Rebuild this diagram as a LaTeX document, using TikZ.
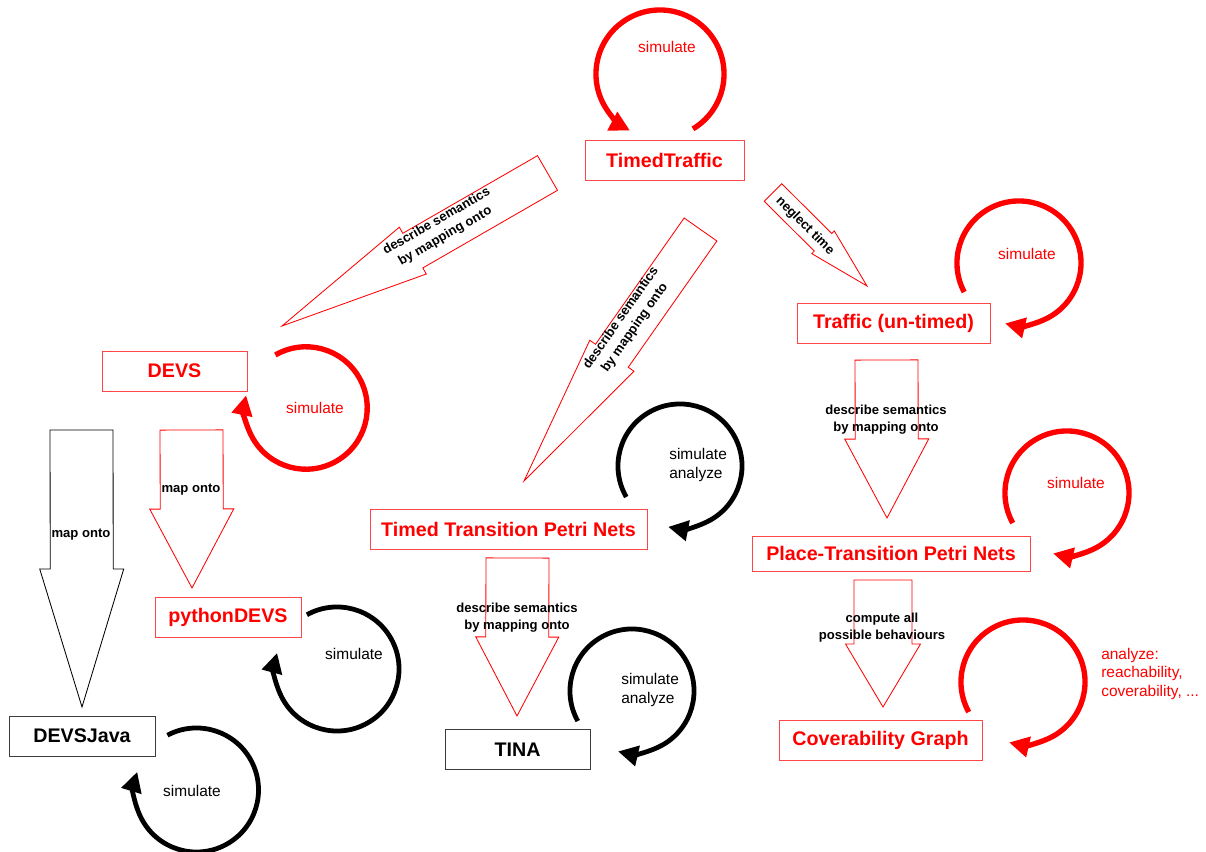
\documentclass[tikz,border=0pt]{standalone}
\usepackage{fontspec}
\setmainfont{Liberation Sans}
\usetikzlibrary{arrows.meta, calc}
\definecolor{simred}{RGB}{255, 0, 0}
\definecolor{boxred}{RGB}{255, 70, 70}
\definecolor{boxgray}{RGB}{60, 60, 60}

% hollow block arrow: [style]{tail}{tip}{shaft half width}{head half width}{head length}, sizes in px
\newcommand{\blockarrow}[6][]{%
  \path ($(#3)!#6*0.025cm!(#2)$) coordinate (ba-base);
  \draw[#1] ($(#2)!#4*0.025cm!90:(#3)$) -- ($(ba-base)!#4*0.025cm!90:(#3)$)
    -- ($(ba-base)!#5*0.025cm!90:(#3)$) -- (#3)
    -- ($(ba-base)!#5*0.025cm!-90:(#3)$) -- ($(ba-base)!#4*0.025cm!-90:(#3)$)
    -- ($(#2)!#4*0.025cm!-90:(#3)$) -- cycle;
}

\begin{document}
\begin{tikzpicture}[x=0.025cm, y=-0.025cm,
  redbox/.style={draw=boxred, line width=0.6pt, text=simred, font=\fontsize{14}{16}\selectfont\bfseries, minimum height=1cm, inner sep=0pt},
  blackbox/.style={redbox, draw=boxgray, text=black},
  redloop/.style={simred, line width=3.8pt, -{Triangle[length=0.5cm, width=0.5cm]}},
  blackloop/.style={redloop, black, line width=3.4pt},
  looplabel/.style={font=\fontsize{11}{13.5}\selectfont, inner sep=0pt},
  arrowlabel/.style={font=\fontsize{9.3}{12}\selectfont\bfseries, align=center, inner sep=0pt},
  redarrow/.style={draw=simred, line width=0.6pt},
  blackarrow/.style={draw=black, line width=0.6pt}]
  \useasboundingbox (0,0) rectangle (1206,852);

  % Modelling formalisms
  \node[redbox, minimum width=3.975cm] (tt) at (664.5,160) {TimedTraffic};
  \node[redbox, minimum width=4.825cm] (traffic) at (893.5,323) {Traffic (un-timed)};
  \node[redbox, minimum width=3.625cm] (devs) at (174.5,371) {DEVS};
  \node[redbox, minimum width=3.65cm] (pydevs) at (228,617.5) {pythonDEVS};
  \node[blackbox, minimum width=3.65cm] (devsjava) at (82,736) {DEVSJava};
  \node[redbox, minimum width=6.925cm] (ttpn) at (508.5,529) {Timed Transition Petri Nets};
  \node[blackbox, minimum width=3.625cm] (tina) at (517.5,749.5) {TINA};
  \node[redbox, minimum width=6.95cm, minimum height=0.875cm] (ptnet) at (891,553.5) {Place-Transition Petri Nets};
  \node[redbox, minimum width=5.075cm] (cover) at (880.5,740.5) {Coverability Graph};

  % Arrow ends
  \coordinate (tt2devs-s) at (547.5,173);  \coordinate (tt2devs-e) at (282,326);
  \coordinate (tt2ttpn-s) at (700.5,229.5); \coordinate (tt2ttpn-e) at (524,481);
  \coordinate (tt2tr-s) at (773,192.5);    \coordinate (tt2tr-e) at (867,286);
  \coordinate (dv2java-s) at (81.5,430);   \coordinate (dv2java-e) at (82,707);
  \coordinate (dv2py-s) at (191.5,430);    \coordinate (dv2py-e) at (192,588);
  \coordinate (ttpn2tina-s) at (517.5,558); \coordinate (ttpn2tina-e) at (517,716);
  \coordinate (tr2pt-s) at (886.5,360);    \coordinate (tr2pt-e) at (887,518);
  \coordinate (pt2cov-s) at (883,580);     \coordinate (pt2cov-e) at (883,707);

  % Mappings
  \blockarrow[redarrow]{tt2devs-s}{tt2devs-e}{20}{27}{151}
  \blockarrow[redarrow]{tt2ttpn-s}{tt2ttpn-e}{20}{27}{153}
  \blockarrow[redarrow]{tt2tr-s}{tt2tr-e}{12.4}{16}{62}
  \blockarrow[blackarrow]{dv2java-s}{dv2java-e}{31.5}{42}{138}
  \blockarrow[redarrow]{dv2py-s}{dv2py-e}{31.5}{42}{79}
  \blockarrow[redarrow]{ttpn2tina-s}{ttpn2tina-e}{31.5}{41.5}{79}
  \blockarrow[redarrow]{tr2pt-s}{tr2pt-e}{31.5}{42}{79}
  \blockarrow[redarrow]{pt2cov-s}{pt2cov-e}{29}{37.5}{63}

  \node[arrowlabel, rotate=30] (tt2devs-l) at (441,229) {describe semantics\\by mapping onto};
  \node[arrowlabel, rotate=55] (tt2ttpn-l) at (628,323) {describe semantics\\by mapping onto};
  \node[arrowlabel, rotate=-45] (tt2tr-l) at (805,226) {neglect time};
  \node[arrowlabel] (dv2java-l) at (81,535) {map onto};
  \node[arrowlabel] (dv2py-l) at (191,490) {map onto};
  \node[arrowlabel] (ttpn2tina-l) at (517,618) {describe semantics\\by mapping onto};
  \node[arrowlabel] (tr2pt-l) at (886,420) {describe semantics\\by mapping onto};
  \node[arrowlabel] (pt2cov-l) at (882,628) {compute all\\possible behaviours};

  % Loops on the formalisms
  \coordinate (tt-c) at (660,74);
  \draw[redloop] ($(tt-c)+(-59:1.6cm)$) arc[start angle=-59, end angle=242, radius=1.6cm];
  \node[looplabel, text=simred] (tt-sim) at (667,47) {simulate};

  \coordinate (traffic-c) at (1019,263);
  \draw[redloop] ($(traffic-c)+(208:1.55cm)$) arc[start angle=208, end angle=-103, radius=1.55cm];
  \node[looplabel, text=simred] (traffic-sim) at (1027,254) {simulate};

  \coordinate (devs-c) at (306,408);
  \draw[redloop] ($(devs-c)+(120:1.53cm)$) arc[start angle=120, end angle=-192, radius=1.53cm];
  \node[looplabel, text=simred] (devs-sim) at (315,408) {simulate};

  \coordinate (pydevs-c) at (337,669);
  \draw[blackloop] ($(pydevs-c)+(119:1.55cm)$) arc[start angle=119, end angle=-195, radius=1.55cm];
  \node[looplabel] (pydevs-sim) at (354,654) {simulate};

  \coordinate (devsjava-c) at (196.5,790);
  \draw[blackloop] ($(devsjava-c)+(118:1.55cm)$) arc[start angle=118, end angle=-197, radius=1.55cm];
  \node[looplabel] (devsjava-sim) at (192,791) {simulate};

  \coordinate (ttpn-c) at (680,466);
  \draw[blackloop] ($(ttpn-c)+(210:1.55cm)$) arc[start angle=210, end angle=-101, radius=1.55cm];
  \node[looplabel, align=left, anchor=west] (ttpn-sim) at (669,465) {simulate\\analyze};

  \coordinate (tina-c) at (632,691);
  \draw[blackloop] ($(tina-c)+(209:1.55cm)$) arc[start angle=209, end angle=-103, radius=1.55cm];
  \node[looplabel, align=left, anchor=west] (tina-sim) at (621,690) {simulate\\analyze};

  \coordinate (ptnet-c) at (1067,493);
  \draw[redloop] ($(ptnet-c)+(209:1.55cm)$) arc[start angle=209, end angle=-103, radius=1.55cm];
  \node[looplabel, text=simred] (ptnet-sim) at (1076,483) {simulate};

  \coordinate (cover-c) at (1023,682);
  \draw[redloop] ($(cover-c)+(209:1.55cm)$) arc[start angle=209, end angle=-103, radius=1.55cm];
  \node[looplabel, text=simred, align=left, anchor=west] (cover-ana) at (1101,674) {analyze:\\reachability,\\coverability, ...};
\end{tikzpicture}
\end{document}
